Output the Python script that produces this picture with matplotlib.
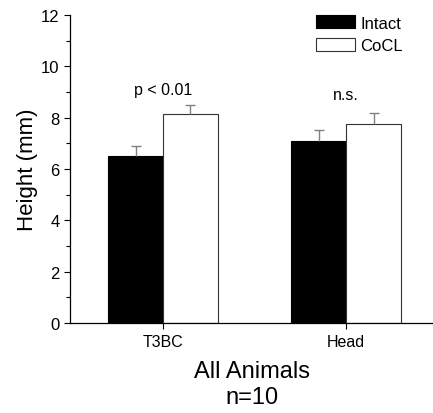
import numpy as np
import matplotlib.pyplot as plt
from matplotlib.ticker import MultipleLocator

plt.rcParams['font.family'] = ['Liberation Sans', 'DejaVu Sans']

groups = ["T3BC", "Head"]
intact_mean = [6.5, 7.08]
intact_err = [0.4, 0.42]
cocl_mean = [8.13, 7.75]
cocl_err = [0.37, 0.43]
sig_labels = ["p < 0.01", "n.s."]
sig_y = [9.1, 8.9]

fig = plt.figure(figsize=(4.33, 4.14), dpi=100)
ax = fig.add_axes([0.1617, 0.2174, 0.8383, 0.744])

x = np.arange(len(groups))
w = 0.30

ax.bar(x - w / 2, intact_mean, w, color="black", edgecolor="black",
       linewidth=0.8, label="Intact")
ax.bar(x + w / 2, cocl_mean, w, color="white", edgecolor="#333333",
       linewidth=0.8, label="CoCL")

# upper-only error bars, gray
for xs, m, e in [(x - w / 2, intact_mean, intact_err),
                 (x + w / 2, cocl_mean, cocl_err)]:
    _, caps, _ = ax.errorbar(xs, m, yerr=[np.zeros(len(m)), e], fmt="none",
                             ecolor="#808080", elinewidth=1.0,
                             capsize=3.5, capthick=1.0, zorder=1)
    caps[0].set_visible(False)

for xi, lab, yy in zip(x, sig_labels, sig_y):
    ax.text(xi, yy, lab, ha="center", va="center", fontsize=11.5)

ax.set_xlim(-0.508, 1.475)
ax.set_ylim(0, 12)
ax.set_xticks(x)
ax.set_xticklabels(groups, fontsize=11.5)
ax.yaxis.set_major_locator(MultipleLocator(2))
ax.yaxis.set_minor_locator(MultipleLocator(1))
ax.tick_params(axis="y", labelsize=12, length=4, width=0.8, direction="out")
ax.tick_params(axis="y", which="minor", length=3, width=0.8)
ax.tick_params(axis="x", length=4, width=0.8, direction="out", pad=4)

for s in ["top", "right"]:
    ax.spines[s].set_visible(False)
for s in ["left", "bottom"]:
    ax.spines[s].set_linewidth(0.9)

ax.set_ylabel("Height (mm)", fontsize=16, labelpad=2)
ax.set_xlabel("All Animals\nn=10", fontsize=17, linespacing=1.25, labelpad=8)

ax.legend(loc="upper right", bbox_to_anchor=(0.935, 1.02), frameon=False,
          fontsize=12, handlelength=2.35, handleheight=0.8,
          handletextpad=0.3, labelspacing=0.45, borderaxespad=0.0)

fig.savefig("out.png", dpi=100)
